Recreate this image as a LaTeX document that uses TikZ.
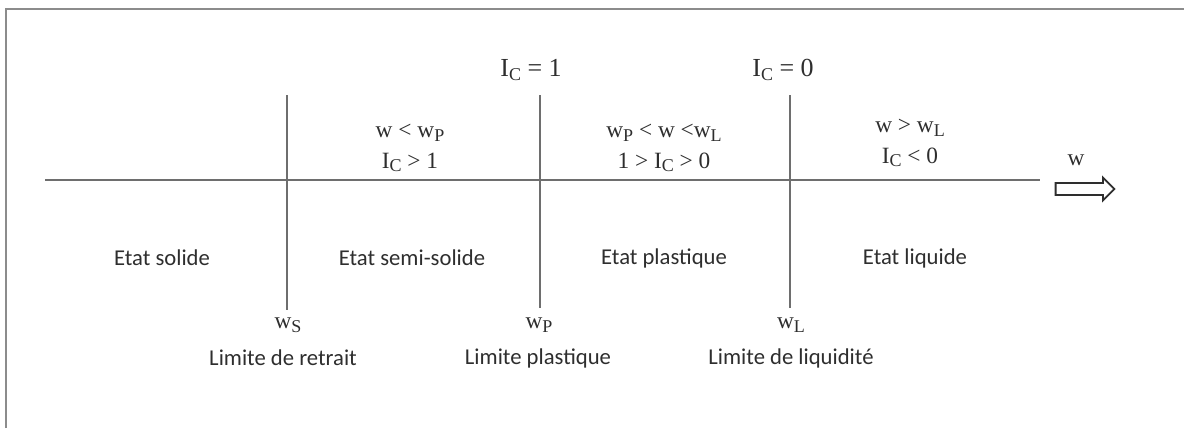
\documentclass[tikz,border=0pt]{standalone}
\usepackage{fontspec}
\setmainfont{Liberation Serif}
\newfontfamily\calib{Carlito}
\usetikzlibrary{shapes.arrows}
\definecolor{linegray}{HTML}{6E6E6E}
\definecolor{txtgray}{HTML}{2E2E2E}
\definecolor{framegray}{HTML}{8C8C8C}
\newcommand{\sbs}[1]{\raisebox{-0.35ex}{\fontsize{13.5}{13.5}\selectfont #1}}
\tikzset{
  sep/.style={draw=linegray, line width=1.3pt},
  axisline/.style={draw=linegray, line width=2pt},
  serif/.style={text=txtgray, font=\fontsize{19.5}{22}\selectfont, inner sep=0pt, align=center},
  cond/.style={text=txtgray, font=\fontsize{17.5}{24}\selectfont, inner sep=0pt, align=center},
  state/.style={text=txtgray, font=\calib\fontsize{17}{20}\selectfont, inner sep=0pt, align=center},
  limw/.style={text=txtgray, font=\fontsize{17.5}{20}\selectfont, inner sep=0pt},
}
\begin{document}
\begin{tikzpicture}[x=0.75pt,y=-0.75pt]
\useasboundingbox (0,0) rectangle (1184,428);
% frame (top and left)
\draw[framegray, line width=2.2pt] (6,428) -- (6,9) -- (1184,9);
% axis
\coordinate (axL) at (45,180);
\coordinate (axR) at (1040,180);
\draw[axisline] (axL) -- (axR);
% separators
\coordinate (s1t) at (287,95);  \coordinate (s1b) at (287,310);
\coordinate (s2t) at (540,95);  \coordinate (s2b) at (540,308);
\coordinate (s3t) at (790,95);  \coordinate (s3b) at (790,308);
\draw[sep] (s1t) -- (s1b);
\draw[sep] (s2t) -- (s2b);
\draw[sep] (s3t) -- (s3b);
% top labels
\node[serif] (ic1) at (531,70) {I\sbs{C} = 1};
\node[serif] (ic0) at (783,70) {I\sbs{C} = 0};
% conditions
\node[cond] (c1) at (410,148) {w < w\sbs{P}\\[-1pt] I\sbs{C} > 1};
\node[cond] (c2) at (664,148) {w\sbs{P} < w <w\sbs{L}\\[-1pt] 1 > I\sbs{C} > 0};
\node[cond] (c3) at (910,143) {w > w\sbs{L}\\[-1pt] I\sbs{C} < 0};
% arrow w
\node[cond] (wlab) at (1076,160) {w};
\node[single arrow, draw=txtgray, line width=1.4pt, fill=white, minimum height=44pt, inner xsep=0pt, inner ysep=3.8pt, single arrow head extend=4pt] (warrow) at (1082,189) {};
% states
\node[state] (st1) at (162,258) {Etat solide};
\node[state] (st2) at (412,258) {Etat semi-solide};
\node[state] (st3) at (664,258) {Etat plastique};
\node[state] (st4) at (915,258) {Etat liquide};
% limits
\node[limw] (ws) at (288,325) {w\sbs{S}};
\node[limw] (wp) at (539,325) {w\sbs{P}};
\node[limw] (wl) at (791,325) {w\sbs{L}};
\node[state] (ls) at (283,358) {Limite de retrait};
\node[state] (lp) at (538,358) {Limite plastique};
\node[state] (ll) at (791,358) {Limite de liquidité};
\end{tikzpicture}
\end{document}
